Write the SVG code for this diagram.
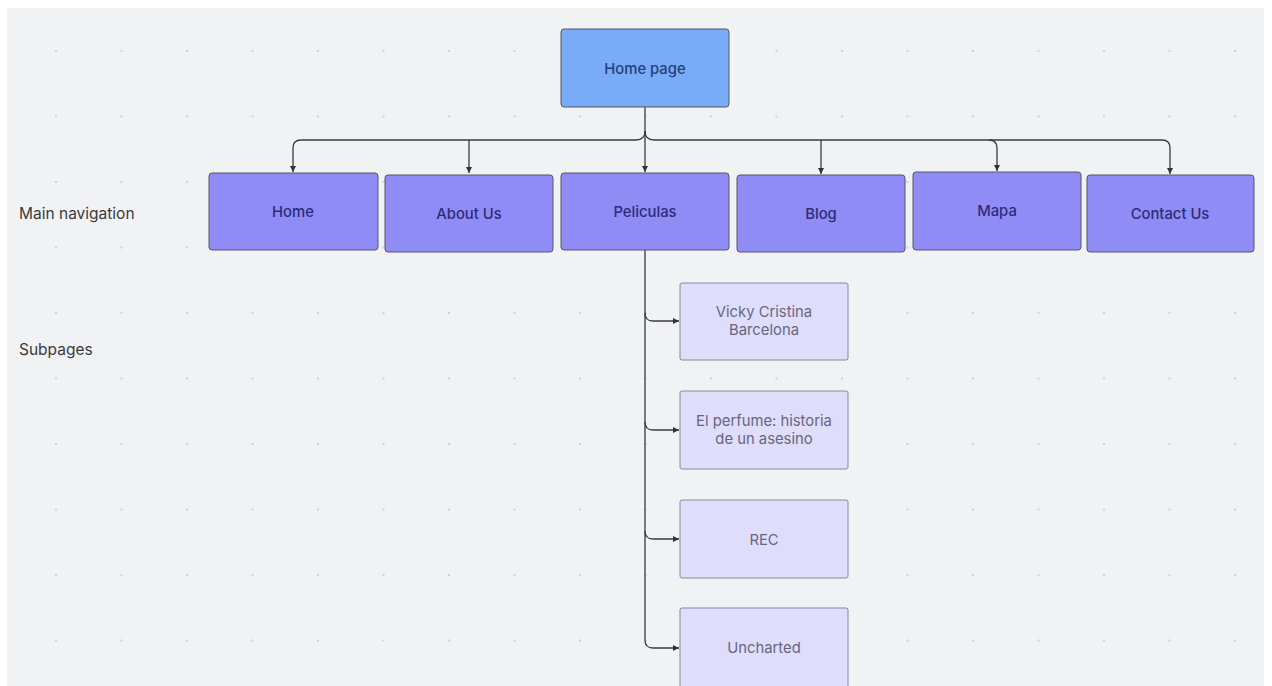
<svg xmlns="http://www.w3.org/2000/svg" width="1272" height="686" viewBox="0 0 1272 686">
  <defs>
    <pattern id="dots" patternUnits="userSpaceOnUse" x="23.25" y="18.25" width="65.5" height="65.5">
      <circle cx="32.75" cy="32.75" r="1.1" fill="#c9cacd"/>
    </pattern>
    <marker id="arr" viewBox="0 0 10 10" refX="10" refY="5" markerWidth="6" markerHeight="6" orient="auto" markerUnits="userSpaceOnUse">
      <path d="M0,0 L10,5 L0,10 Z" fill="#333"/>
    </marker>
    <style>
      .node rect { stroke: #55565e; stroke-width: 1; }
      .root rect { fill: #7aabf8; }
      .nav rect { fill: #8f8cf6; }
      .sub rect { fill: #dfddfc; stroke: #8a8a96; }
      text { font-family: Inter, "Noto Sans", "Liberation Sans", sans-serif; font-size: 14.8px; font-weight: 500; text-anchor: middle; dominant-baseline: central; }
      .root text { fill: #22407c; }
      .nav text { fill: #2c2c78; }
      .sub text { fill: #66667f; font-weight: 400; }
      .label { fill: #3a3a3e; text-anchor: start; font-size: 15.5px; font-weight: 400; }
      .edge { fill: none; stroke: #3b3b3f; stroke-width: 1.3; marker-end: url(#arr); }
    </style>
  </defs>
  <rect x="0" y="0" width="1272" height="686" fill="#ffffff"/>
  <rect x="7" y="8" width="1257" height="678" fill="#f1f2f4"/>
  <rect x="7" y="8" width="1257" height="678" fill="url(#dots)"/>

  <text class="label" x="19" y="213">Main navigation</text>
  <text class="label" x="19" y="349">Subpages</text>

  <g id="connectors">
    <path class="edge" d="M645,107 L645,172"/>
    <path class="edge" d="M645,131 Q645,140 636,140 L301,140 Q293,140 293,148 L293,172"/>
    <path class="edge" d="M469,140 L469,173"/>
    <path class="edge" d="M645,131 Q645,140 654,140 L1162,140 Q1170,140 1170,148 L1170,174"/>
    <path class="edge" d="M821,140 L821,174"/>
    <path class="edge" d="M989,140 Q997,140 997,148 L997,171"/>
    <path class="edge" d="M645,250 L645,640 Q645,648 653,648 L679,648"/>
    <path class="edge" d="M645,313 Q645,321 653,321 L679,321"/>
    <path class="edge" d="M645,422 Q645,430 653,430 L679,430"/>
    <path class="edge" d="M645,531 Q645,539 653,539 L679,539"/>
  </g>

  <g id="home-page" class="node root">
    <rect x="561" y="29" width="168" height="78" rx="3"/>
    <text x="645" y="69">Home page</text>
  </g>

  <g id="nav-home" class="node nav">
    <rect x="209" y="173" width="169" height="77" rx="3"/>
    <text x="293" y="212">Home</text>
  </g>
  <g id="nav-about" class="node nav">
    <rect x="385" y="175" width="168" height="77" rx="3"/>
    <text x="469" y="214">About Us</text>
  </g>
  <g id="nav-peliculas" class="node nav">
    <rect x="561" y="173" width="168" height="77" rx="3"/>
    <text x="645" y="212">Peliculas</text>
  </g>
  <g id="nav-blog" class="node nav">
    <rect x="737" y="175" width="168" height="77" rx="3"/>
    <text x="821" y="214">Blog</text>
  </g>
  <g id="nav-mapa" class="node nav">
    <rect x="913" y="172" width="168" height="78" rx="3"/>
    <text x="997" y="211">Mapa</text>
  </g>
  <g id="nav-contact" class="node nav">
    <rect x="1087" y="175" width="167" height="77" rx="3"/>
    <text x="1170" y="214">Contact Us</text>
  </g>

  <g id="sub-vicky" class="node sub">
    <rect x="680" y="283" width="168" height="77" rx="2"/>
    <text x="764" y="312">Vicky Cristina</text>
    <text x="764" y="330">Barcelona</text>
  </g>
  <g id="sub-perfume" class="node sub">
    <rect x="680" y="391" width="168" height="78" rx="2"/>
    <text x="764" y="421">El perfume: historia</text>
    <text x="764" y="439">de un asesino</text>
  </g>
  <g id="sub-rec" class="node sub">
    <rect x="680" y="500" width="168" height="78" rx="2"/>
    <text x="764" y="540">REC</text>
  </g>
  <g id="sub-uncharted" class="node sub">
    <rect x="680" y="608" width="168" height="80" rx="2"/>
    <text x="764" y="648">Uncharted</text>
  </g>
</svg>
